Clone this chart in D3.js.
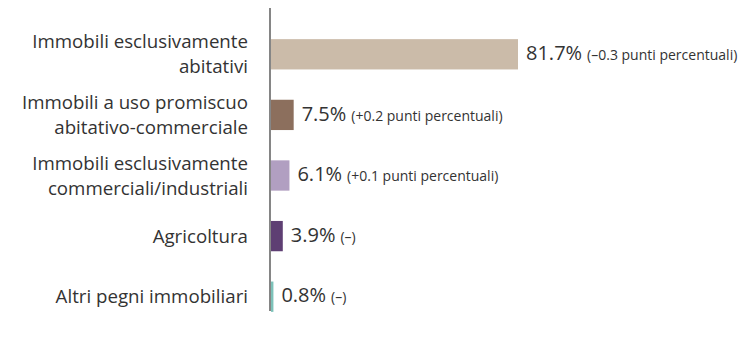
<!DOCTYPE html>
<html>
<head>
<meta charset="utf-8">
<script src="https://cdn.jsdelivr.net/npm/d3@7"></script>
<style>
  html, body { margin: 0; padding: 0; background: #fff; }
  svg { display: block; font-family: "Open Sans", "Noto Sans", sans-serif; }
</style>
</head>
<body>
<svg id="chart" width="747" height="338"></svg>
<script>
// Ripartizione dei pegni immobiliari per tipologia
const categories = [
  ["Immobili esclusivamente", "abitativi"],
  ["Immobili a uso promiscuo", "abitativo-commerciale"],
  ["Immobili esclusivamente", "commerciali/industriali"],
  ["Agricoltura"],
  ["Altri pegni immobiliari"]
];
const values = [81.7, 7.5, 6.1, 3.9, 0.8];
const changes = ["(\u20130.3 punti percentuali)", "(+0.2 punti percentuali)", "(+0.1 punti percentuali)", "(\u2013)", "(\u2013)"];
const colors = ["#cbbba9", "#8c6f5d", "#b19fc1", "#5e3f73", "#7dc2b9"];

const svg = d3.select("#chart");
const x = d3.scaleLinear().domain([0, 81.7]).range([271, 518]);
const y = d3.scaleBand().domain(d3.range(values.length)).range([24, 327]).paddingInner(0.5).paddingOuter(0.25);

// bars
svg.selectAll("rect.bar").data(values).join("rect")
  .attr("class", "bar")
  .attr("x", x(0))
  .attr("y", (d, i) => y(i))
  .attr("width", d => x(d) - x(0))
  .attr("height", y.bandwidth())
  .attr("fill", (d, i) => colors[i]);

// vertical axis line
svg.append("line")
  .attr("x1", 270).attr("x2", 270)
  .attr("y1", 8).attr("y2", 311)
  .attr("stroke", "#444").attr("stroke-width", 1.3);

// category labels
const cat = svg.selectAll("text.cat").data(categories).join("text")
  .attr("class", "cat")
  .attr("text-anchor", "end")
  .attr("fill", "#333")
  .style("font-size", "18.7px");
cat.each(function(lines, i) {
  const cy = y(i) + y.bandwidth() / 2;
  const lh = 25;
  const start = cy - (lines.length - 1) * lh / 2;
  d3.select(this).selectAll("tspan").data(lines).join("tspan")
    .attr("x", 248)
    .attr("y", (d, j) => start + j * lh)
    .attr("dy", "0.35em")
    .text(d => d);
});

// value labels
const vl = svg.selectAll("text.val").data(values).join("text")
  .attr("class", "val")
  .attr("x", d => x(d) + 8)
  .attr("y", (d, i) => y(i) + y.bandwidth() / 2)
  .attr("dy", "0.35em")
  .attr("fill", "#333");
vl.append("tspan").style("font-size", "20px").text(d => d.toFixed(1) + "%");
vl.append("tspan").style("font-size", "14px").attr("dx", 5).text((d, i) => changes[i]);
</script>
</body>
</html>
